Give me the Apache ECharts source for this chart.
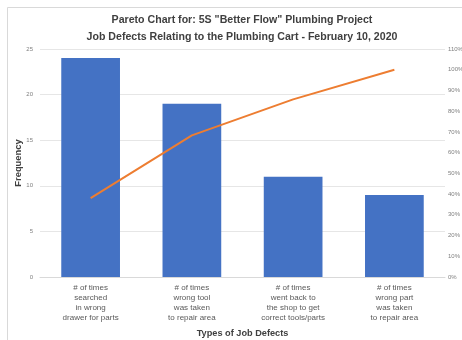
<!DOCTYPE html>
<html><head><meta charset="utf-8">
<script src="https://cdn.jsdelivr.net/npm/echarts@6/dist/echarts.min.js"></script>
<style>html,body{margin:0;padding:0;background:#fff}#c{width:462px;height:340px}</style>
</head><body><div id="c"></div>
<script>
const categories = [
  "# of times\nsearched\nin wrong\ndrawer for parts",
  "# of times\nwrong tool\nwas taken\nto repair area",
  "# of times\nwent back to\nthe shop to get\ncorrect tools/parts",
  "# of times\nwrong part\nwas taken\nto repair area"
];
const frequency = [24, 19, 11, 9];
const cumulativePercent = [38.1, 68.3, 85.7, 100];
const titleLines = ['Pareto Chart for: 5S "Better Flow" Plumbing Project', 'Job Defects Relating to the Plumbing Cart - February 10, 2020'];

const chart = echarts.init(document.getElementById('c'), null, {renderer: 'canvas'});
const font = 'Liberation Sans, Arial, sans-serif';
chart.setOption({
  animation: false,
  backgroundColor: '#fff',
  graphic: [{
    type: 'rect', shape: {x: 7.5, y: 7.5, width: 470, height: 340},
    style: {fill: 'none', stroke: '#d9d9d9', lineWidth: 1}, silent: true
  }],
  title: {
    text: titleLines.join('\n'),
    left: 237, top: 7, textAlign: 'center',
    textStyle: {fontFamily: font, fontSize: 10.6, fontWeight: 'bold', color: '#404040', lineHeight: 17}
  },
  grid: {left: 40, right: 17, top: 49, bottom: 63, outerBoundsMode: 'none', containLabel: false},
  xAxis: {
    type: 'category', data: categories,
    name: 'Types of Job Defects', nameLocation: 'middle', nameGap: 52, nameMoveOverlap: false,
    nameTextStyle: {fontFamily: font, fontSize: 9.2, fontWeight: 'bold', color: '#404040'},
    axisLine: {lineStyle: {color: '#d9d9d9'}}, axisTick: {show: false},
    axisLabel: {fontFamily: font, fontSize: 8, color: '#595959', lineHeight: 10, interval: 0, margin: 6}
  },
  yAxis: [{
    type: 'value', min: 0, max: 25, interval: 5,
    name: 'Frequency', nameLocation: 'middle', nameGap: 17, nameRotate: 90, nameMoveOverlap: false,
    nameTextStyle: {fontFamily: font, fontSize: 9.4, fontWeight: 'bold', color: '#404040'},
    axisLine: {show: false}, axisTick: {show: false},
    axisLabel: {fontFamily: font, fontSize: 6, color: '#808080', margin: 7},
    splitLine: {lineStyle: {color: '#e6e6e6'}}
  }, {
    type: 'value', min: 0, max: 110, interval: 10, position: 'right',
    axisLine: {show: false}, axisTick: {show: false},
    axisLabel: {fontFamily: font, fontSize: 6, color: '#808080', margin: 3, formatter: '{value}%'},
    splitLine: {show: false}
  }],
  series: [{
    type: 'bar', data: frequency, barWidth: '58%',
    itemStyle: {color: '#4472C4'}
  }, {
    type: 'line', yAxisIndex: 1, data: cumulativePercent,
    showSymbol: false, symbol: 'none',
    lineStyle: {color: '#ED7D31', width: 2}
  }]
});
</script></body></html>
